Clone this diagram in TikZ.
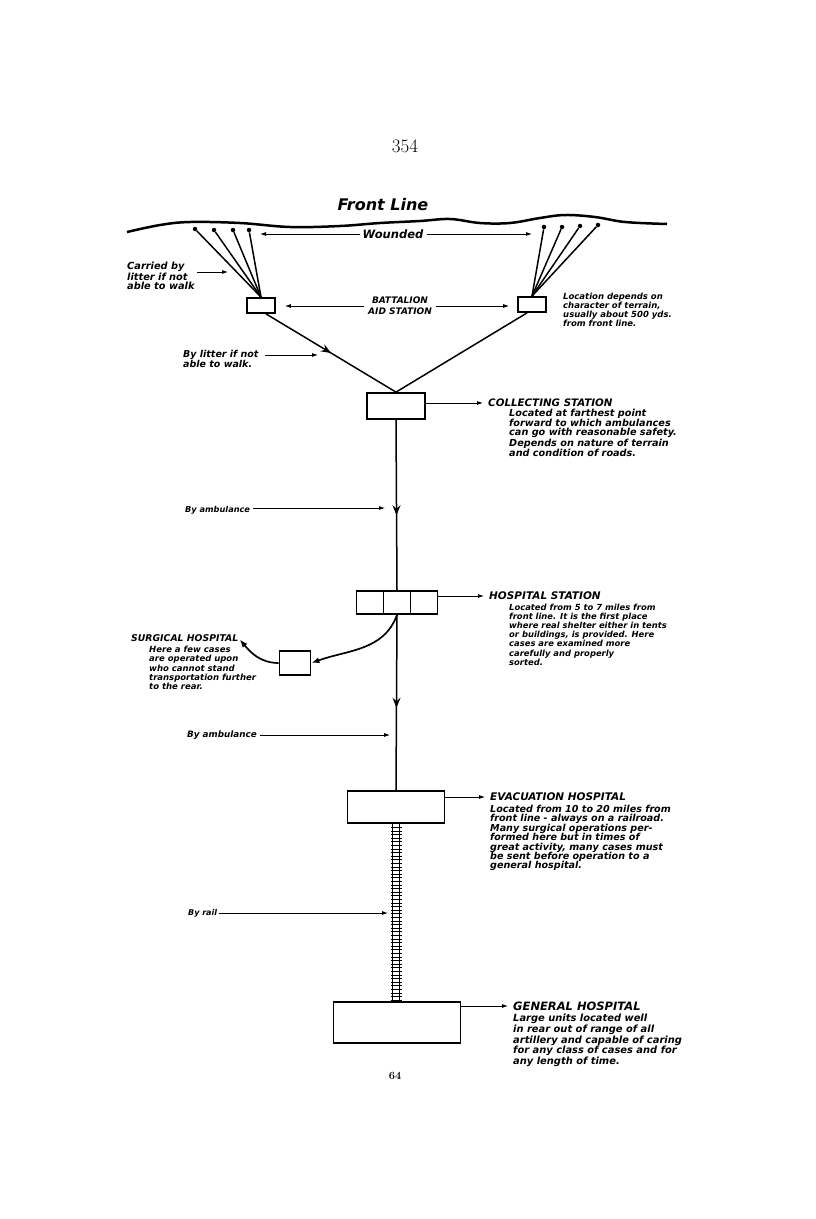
\documentclass[tikz,border=0pt]{standalone}
\usepackage{fontspec}
\newfontfamily\letterfont{DejaVu Sans}
\newcommand\lettering[2]{\letterfont\bfseries\itshape\fontsize{#1}{#2}\selectfont}
\usetikzlibrary{arrows.meta, positioning, calc, decorations.markings}

\begin{document}
\begin{tikzpicture}[
  x=1pt,
  y=-1pt,
  >=Latex,
  station/.style={draw, line width=1.8pt, inner sep=0pt},
  dot/.style={circle, fill, inner sep=0pt, minimum size=4.5pt},
  route/.style={line width=1.5pt},
  arrow/.style={-{Latex[length=6pt, width=4pt]}, line width=0.8pt},
  bigarrow/.style={-{Latex[length=8pt, width=6pt]}, line width=1.7pt},
  midarrow/.style={postaction={decorate}, decoration={markings,
    mark=at position #1 with {\arrow{Stealth[length=10pt, width=8pt, inset=3.5pt]}}}},
  midarrow/.default=0.5,
  rail/.style={line width=1.1pt},
  tie/.style={line width=1.1pt},
  head/.style={anchor=west, inner sep=0pt, font=\lettering{10.3}{10}},
  desc/.style={anchor=north west, inner sep=0pt, align=left, font=\lettering{8.5}{9}},
  note/.style={inner sep=0pt, align=left, font=\lettering{8.5}{9}}
]
  \useasboundingbox (0,0) rectangle (816,1219);

  % Page heading and the front line with the wounded along it.
  \node[font=\fontsize{19}{19}\selectfont] (pagehead) at (405,146) {354};
  \node[inner sep=0pt, font=\lettering{16}{16}] (front) at (383,205) {Front Line};
  \draw[line width=2.5pt] plot[smooth, tension=0.6] coordinates {
    (127,232) (160,225) (190,222) (240,223) (290,227) (340,226) (380,223)
    (420,221) (450,219) (480,223) (510,223) (540,218) (565,215) (595,217)
    (625,222) (667,224)};

  \node[dot] (w1) at (195,229) {};
  \node[dot] (w2) at (214,230) {};
  \node[dot] (w3) at (233,230) {};
  \node[dot] (w4) at (249,230) {};
  \node[dot] (w5) at (544,227) {};
  \node[dot] (w6) at (562,227) {};
  \node[dot] (w7) at (580,226) {};
  \node[dot] (w8) at (598,225) {};

  % Battalion aid stations.
  \node[station, minimum width=28pt, minimum height=15pt] (bas1) at (261,305.5) {};
  \node[station, minimum width=28pt, minimum height=15pt] (bas2) at (532,304.5) {};
  \foreach \w in {w1,w2,w3,w4} \draw[route] (\w) -- (bas1.north);
  \foreach \w in {w5,w6,w7,w8} \draw[route] (\w) -- (bas2.north);

  \node[inner sep=0pt, font=\lettering{11.5}{11}] (wounded) at (393,234) {Wounded};
  \draw[arrow, shorten <=3pt, shorten >=11pt] (wounded.west) -- (wounded.west -| w4);
  \draw[arrow, shorten <=3pt, shorten >=12pt] (wounded.east) -- (wounded.east -| w5);

  \node[note, anchor=north west, font=\lettering{9.8}{9.5}] (carry) at (127,262) {Carried by\\litter if not\\able to walk};
  \coordinate (carrytip) at (228,272);
  \draw[arrow, shorten <=2pt] (carrytip -| carry.east) -- (carrytip);

  \node[note, align=center, font=\lettering{9}{11}] (battalion) at (400,306) {BATTALION\\AID STATION};
  \draw[arrow, shorten <=4pt, shorten >=9pt] (battalion.west) -- (battalion.west -| bas1.east);
  \draw[arrow, shorten <=4pt, shorten >=8pt] (battalion.east) -- (battalion.east -| bas2.west);

  \node[desc, font=\lettering{8.5}{8.9}] (terrain) at (563,293) {Location depends on\\character of terrain,\\usually about 500 yds.\\from front line.};

  % Collecting station.
  \node[station, minimum width=58pt, minimum height=26pt] (coll) at (396,406) {};
  \draw[route, midarrow] ([xshift=5pt]bas1.south) -- (coll.north);
  \draw[route] ([xshift=-5pt]bas2.south) -- (coll.north);

  \node[note, anchor=north west, font=\lettering{9.5}{10}] (bylitter) at (183,350) {By litter if not\\able to walk.};
  \coordinate (littertip) at (318,355);
  \draw[arrow, shorten <=6pt] (littertip -| bylitter.east) -- (littertip);

  \node[head] (colltitle) at (488,403) {COLLECTING STATION};
  \draw[arrow, shorten >=5pt] (coll.east |- colltitle.west) -- (colltitle.west);
  \node[desc, font=\lettering{9.7}{8.7}] (colldesc) at (509,409) {Located at farthest point\\forward to which ambulances\\can go with reasonable safety.\\Depends on nature of terrain\\and condition of roads.};

  % Hospital station, three units side by side.
  \node[station, minimum width=27pt, minimum height=23pt] (hospB) at (397,602.5) {};
  \node[station, minimum width=27pt, minimum height=23pt, left=-1.8pt of hospB] (hospA) {};
  \node[station, minimum width=27pt, minimum height=23pt, right=-1.8pt of hospB] (hospC) {};
  \draw[route, midarrow=0.56] (coll.south) -- (hospB.north);

  \node[note, anchor=west, font=\lettering{8.2}{9}] (amb1) at (185,510) {By ambulance};
  \coordinate (amb1tip) at (385,508);
  \draw[arrow, shorten <=3pt] (amb1tip -| amb1.east) -- (amb1tip);

  \node[head, font=\lettering{10.5}{10}] (hosptitle) at (489,596) {HOSPITAL STATION};
  \draw[arrow, shorten >=5pt] (hospC.east |- hosptitle.west) -- (hosptitle.west);
  \node[desc, font=\lettering{8.4}{9.1}] (hospdesc) at (509,604) {Located from 5 to 7 miles from\\front line. It is the first place\\where real shelter either in tents\\or buildings, is provided. Here\\cases are examined more\\carefully and properly\\sorted.};

  % Surgical hospital branches off to the side.
  \node[station, minimum width=31pt, minimum height=24pt] (surg) at (295,663) {};
  \draw[bigarrow] (hospB.south) to[out=-110, in=20] (surg.east);
  \node[head, font=\lettering{9.3}{9}] (surgtitle) at (131,638) {SURGICAL HOSPITAL};
  \draw[bigarrow, shorten >=2pt] (surg.west) to[out=180, in=-50] (surgtitle.east);
  \node[desc, font=\lettering{8.5}{9.2}] (surgdesc) at (149,646) {Here a few cases\\are operated upon\\who cannot stand\\transportation further\\to the rear.};

  % Evacuation hospital.
  \node[station, minimum width=97pt, minimum height=32pt] (evac) at (396,807) {};
  \draw[route, midarrow=0.53] (hospB.south) -- (evac.north);

  \node[note, anchor=west, font=\lettering{8.8}{9}] (amb2) at (187,735) {By ambulance};
  \coordinate (amb2tip) at (390,735);
  \draw[arrow, shorten <=3pt] (amb2tip -| amb2.east) -- (amb2tip);

  \node[head, font=\lettering{10.5}{10}] (evactitle) at (490,797) {EVACUATION HOSPITAL};
  \draw[arrow, shorten >=5pt] (evac.east |- evactitle.west) -- (evactitle.west);
  \node[desc, font=\lettering{9.6}{9.4}] (evacdesc) at (490,805) {Located from 10 to 20 miles from\\front line - always on a railroad.\\Many surgical operations per-\\formed here but in times of\\great activity, many cases must\\be sent before operation to a\\general hospital.};

  % General hospital, reached by rail.
  \node[station, minimum width=127pt, minimum height=41pt] (gen) at (397,1022.5) {};
  \coordinate (railtop) at (evac.south);
  \coordinate (railend) at (evac.south |- gen.north);
  \draw[rail] ([xshift=-3.5pt]railtop) -- ([xshift=-3.5pt]railend);
  \draw[rail] ([xshift=3.5pt]railtop) -- ([xshift=3.5pt]railend);
  \foreach \k in {1,...,49}
    \draw[tie] ($(railtop)+(-5.5,\k*3.6)$) -- ++(11,0);

  \node[note, anchor=west, font=\lettering{8}{9}] (byrail) at (188,913) {By rail};
  \coordinate (railtip) at (388,913);
  \draw[arrow, shorten <=2pt] (railtip -| byrail.east) -- (railtip);

  \node[head, font=\lettering{11.5}{10}] (gentitle) at (513,1006) {GENERAL HOSPITAL};
  \draw[arrow, shorten >=5pt] (gen.east |- gentitle.west) -- (gentitle.west);
  \node[desc, font=\lettering{9.9}{8.9}] (gendesc) at (513,1014) {Large units located well\\in rear out of range of all\\artillery and capable of caring\\for any class of cases and for\\any length of time.};

  \node[font=\bfseries\fontsize{11}{11}\selectfont] (pagefoot) at (395,1076) {64};

\end{tikzpicture}
\end{document}
